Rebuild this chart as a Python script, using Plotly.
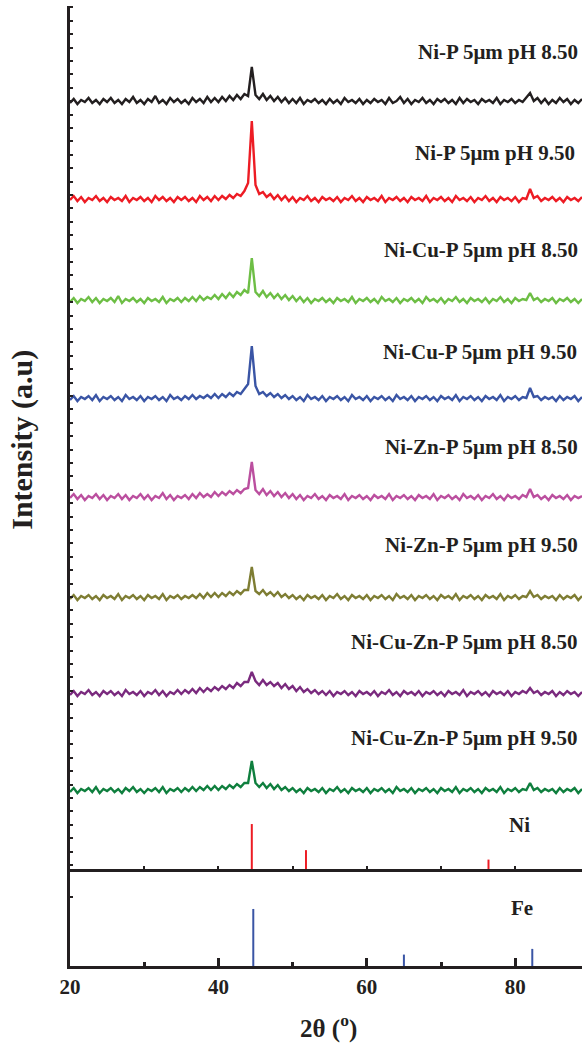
import numpy as np
import plotly.graph_objects as go

# ---------------- data ----------------
# 2-theta sampling grid (degrees): 20.0 .. 89.0 every 0.5
TWO_THETA_START = 20.0
TWO_THETA_STEP = 0.5
N_POINTS = 139

sample_names = [
    "Ni-P 5μm pH 8.50",
    "Ni-P 5μm pH 9.50",
    "Ni-Cu-P 5μm pH 8.50",
    "Ni-Cu-P 5μm pH 9.50",
    "Ni-Zn-P 5μm pH 8.50",
    "Ni-Zn-P 5μm pH 9.50",
    "Ni-Cu-Zn-P 5μm pH 8.50",
    "Ni-Cu-Zn-P 5μm pH 9.50",
]

ni_p_85 = [
    1, 5, 0, 4, 2, 6, 1, 4, 0, 5,
    2, 6, 1, 4, 0, 5, 2, 7, 1, 4,
    0, 5, 2, 8, 1, 4, 0, 6, 2, 5,
    1, 4, 0, 6, 2, 5, 1, 7, 2, 6,
    2, 7, 3, 8, 4, 9, 5, 10, 8, 37,
    9, 5, 10, 4, 8, 3, 7, 2, 6, 1,
    5, 1, 6, 0, 4, 2, 5, 1, 4, 0,
    5, 1, 4, 0, 6, 2, 4, 1, 5, 0,
    4, 1, 5, 2, 4, 0, 6, 1, 3, 7,
    1, 5, 0, 4, 2, 6, 1, 4, 0, 5,
    2, 5, 1, 4, 0, 6, 1, 5, 2, 4,
    0, 5, 2, 4, 1, 6, 0, 4, 2, 5,
    1, 4, 2, 6, 11, 3, 6, 1, 5, 0,
    4, 1, 6, 2, 5, 0, 4, 1, 5,
]
ni_p_95 = [
    2, 6, 1, 5, 0, 4, 2, 6, 1, 4,
    0, 5, 2, 4, 1, 6, 0, 4, 2, 5,
    1, 4, 0, 6, 2, 5, 1, 4, 0, 5,
    2, 5, 1, 4, 0, 6, 2, 5, 1, 6,
    2, 6, 3, 7, 4, 8, 6, 11, 19, 81,
    17, 8, 10, 5, 8, 3, 7, 2, 6, 1,
    5, 0, 4, 2, 6, 1, 4, 0, 5, 2,
    4, 1, 5, 0, 4, 2, 6, 1, 4, 0,
    5, 2, 4, 1, 6, 0, 4, 2, 5, 1,
    4, 0, 5, 2, 4, 1, 6, 0, 4, 2,
    5, 1, 4, 0, 6, 2, 4, 1, 5, 0,
    4, 2, 6, 1, 4, 0, 5, 2, 4, 1,
    5, 0, 4, 3, 13, 4, 6, 1, 4, 2,
    5, 1, 4, 0, 5, 2, 4, 1, 5,
]
ni_cu_p_85 = [
    1, 5, 0, 4, 2, 6, 1, 5, 0, 4,
    2, 5, 1, 7, 0, 4, 2, 5, 1, 4,
    0, 5, 2, 4, 1, 6, 0, 4, 2, 5,
    1, 5, 2, 6, 2, 7, 3, 6, 4, 8,
    4, 9, 5, 10, 6, 11, 8, 13, 10, 45,
    11, 7, 12, 6, 10, 5, 9, 4, 8, 3,
    7, 2, 6, 1, 5, 0, 4, 2, 5, 1,
    4, 0, 5, 2, 4, 1, 6, 0, 4, 2,
    5, 1, 4, 0, 6, 2, 4, 1, 5, 0,
    4, 2, 5, 1, 4, 0, 6, 2, 4, 1,
    5, 0, 4, 2, 6, 1, 4, 0, 5, 2,
    4, 1, 5, 0, 4, 2, 6, 1, 4, 0,
    5, 2, 4, 3, 10, 3, 5, 1, 4, 2,
    5, 0, 4, 2, 5, 1, 4, 0, 4,
]
ni_cu_p_95 = [
    1, 5, 0, 4, 2, 5, 1, 6, 0, 4,
    2, 5, 1, 4, 0, 6, 2, 4, 1, 5,
    0, 4, 2, 5, 1, 4, 0, 6, 2, 4,
    1, 5, 2, 6, 2, 5, 3, 6, 3, 7,
    3, 7, 4, 8, 5, 9, 7, 12, 17, 55,
    15, 7, 9, 5, 8, 4, 7, 3, 6, 2,
    5, 1, 4, 0, 6, 2, 4, 1, 5, 0,
    4, 2, 5, 1, 4, 0, 6, 2, 4, 1,
    5, 0, 4, 2, 5, 1, 4, 0, 6, 2,
    4, 1, 5, 0, 4, 2, 5, 1, 4, 0,
    5, 2, 4, 1, 6, 0, 4, 2, 5, 1,
    4, 0, 5, 2, 4, 1, 6, 0, 4, 2,
    5, 1, 4, 3, 13, 4, 5, 1, 4, 2,
    4, 0, 5, 1, 4, 2, 5, 0, 4,
]
ni_zn_p_85 = [
    2, 6, 1, 5, 0, 4, 2, 6, 1, 5,
    0, 4, 2, 6, 1, 5, 0, 4, 2, 6,
    1, 5, 0, 4, 2, 7, 1, 5, 0, 4,
    2, 5, 1, 6, 2, 7, 3, 6, 3, 8,
    4, 8, 5, 9, 6, 10, 7, 11, 12, 38,
    10, 6, 11, 5, 9, 4, 8, 3, 7, 2,
    6, 1, 5, 0, 4, 2, 6, 1, 4, 0,
    5, 2, 4, 1, 6, 0, 4, 2, 5, 1,
    4, 0, 5, 2, 4, 1, 6, 0, 4, 2,
    5, 1, 4, 0, 5, 2, 4, 1, 6, 0,
    4, 2, 5, 1, 4, 0, 6, 2, 4, 1,
    5, 0, 4, 2, 6, 1, 4, 0, 5, 2,
    4, 1, 5, 3, 11, 3, 5, 1, 4, 0,
    5, 2, 4, 1, 5, 0, 4, 2, 4,
]
ni_zn_p_95 = [
    1, 5, 0, 4, 2, 5, 1, 4, 0, 5,
    2, 4, 1, 6, 0, 4, 2, 5, 1, 4,
    0, 5, 2, 4, 1, 6, 0, 4, 2, 5,
    1, 4, 2, 5, 2, 6, 2, 7, 3, 7,
    3, 7, 4, 8, 5, 9, 6, 10, 10, 33,
    9, 6, 10, 5, 8, 4, 8, 3, 6, 2,
    5, 1, 4, 0, 5, 2, 4, 1, 5, 0,
    4, 2, 6, 1, 4, 0, 5, 2, 4, 1,
    5, 0, 4, 2, 5, 1, 4, 0, 6, 2,
    4, 1, 5, 0, 4, 2, 5, 1, 4, 0,
    5, 2, 4, 1, 6, 0, 4, 2, 5, 1,
    4, 0, 5, 2, 4, 1, 6, 0, 4, 2,
    5, 1, 4, 3, 9, 3, 5, 1, 4, 2,
    4, 0, 5, 1, 4, 2, 5, 0, 4,
]
ni_cu_zn_p_85 = [
    1, 5, 0, 4, 2, 6, 1, 4, 0, 5,
    2, 5, 1, 4, 0, 6, 2, 4, 1, 5,
    0, 4, 2, 6, 1, 5, 0, 4, 2, 6,
    2, 6, 3, 7, 3, 8, 4, 8, 5, 9,
    6, 10, 7, 11, 8, 13, 10, 14, 14, 24,
    15, 11, 16, 11, 14, 10, 13, 8, 12, 7,
    10, 5, 9, 4, 7, 3, 6, 2, 5, 1,
    5, 0, 4, 2, 5, 1, 4, 0, 5, 2,
    4, 1, 5, 0, 4, 2, 6, 1, 4, 0,
    5, 2, 4, 1, 5, 0, 4, 2, 5, 1,
    4, 0, 5, 2, 4, 1, 6, 0, 4, 2,
    5, 1, 4, 0, 5, 2, 4, 1, 5, 0,
    4, 2, 5, 3, 8, 3, 5, 1, 4, 2,
    5, 0, 4, 1, 5, 2, 4, 0, 4,
]
ni_cu_zn_p_95 = [
    1, 5, 0, 4, 2, 5, 1, 6, 0, 4,
    2, 5, 1, 4, 0, 5, 2, 6, 1, 4,
    0, 4, 2, 5, 1, 6, 0, 4, 2, 5,
    1, 5, 2, 6, 2, 6, 3, 7, 3, 7,
    3, 7, 4, 8, 5, 9, 6, 10, 10, 32,
    10, 6, 10, 5, 9, 4, 8, 3, 6, 2,
    5, 1, 4, 0, 5, 2, 4, 1, 5, 0,
    4, 2, 6, 1, 4, 0, 5, 2, 4, 1,
    5, 0, 4, 2, 5, 1, 4, 0, 6, 2,
    4, 1, 5, 0, 4, 2, 5, 1, 4, 0,
    5, 2, 4, 1, 6, 0, 4, 2, 5, 1,
    4, 0, 5, 2, 4, 1, 6, 0, 4, 2,
    5, 1, 4, 3, 10, 3, 5, 1, 4, 2,
    4, 0, 5, 1, 4, 2, 5, 0, 4,
]

# Reference patterns (2θ positions, relative intensities)
ni_ref_pos = [44.5, 51.8, 76.4]
ni_ref_int = [100, 42, 21]
fe_ref_pos = [44.7, 65.0, 82.3]
fe_ref_int = [100, 20, 30]

x_tick_labels = ["20", "40", "60", "80"]
x_tick_values = [20, 40, 60, 80]

# ---------------- styling / layout ----------------
series = [ni_p_85, ni_p_95, ni_cu_p_85, ni_cu_p_95,
          ni_zn_p_85, ni_zn_p_95, ni_cu_zn_p_85, ni_cu_zn_p_95]
colors = ["#231f20", "#ed1c24", "#6dbe45", "#3a55a5",
          "#bb4f9f", "#7e7d33", "#7a2a7e", "#0f7f3e"]
offsets = [765, 667, 566, 468, 369, 269, 173, 76]
label_y = [817, 716, 619, 517, 422, 324, 227, 131]
label_x = [0.996, 0.990, 0.996, 0.994, 0.996, 0.996, 0.996, 0.996]
NI_SCALE = 0.45

FONT = "Liberation Serif, Times New Roman, serif"
AX = "#231f20"

two_theta = TWO_THETA_START + TWO_THETA_STEP * np.arange(N_POINTS)

fig = go.Figure()
for vals, col, off in zip(series, colors, offsets):
    fig.add_trace(go.Scatter(
        x=two_theta, y=np.array(vals, dtype=float) + off, mode="lines",
        line=dict(color=col, width=2.4), xaxis="x", yaxis="y",
        showlegend=False, hoverinfo="skip"))

# Ni sticks (main panel bottom)
nx, ny = [], []
for p, h in zip(ni_ref_pos, ni_ref_int):
    nx += [p, p, None]
    ny += [0, h * NI_SCALE, None]
fig.add_trace(go.Scatter(x=nx, y=ny, mode="lines",
                         line=dict(color="#ed1c24", width=2),
                         xaxis="x", yaxis="y", showlegend=False,
                         hoverinfo="skip"))

# Fe sticks (bottom panel)
fx, fy = [], []
for p, h in zip(fe_ref_pos, fe_ref_int):
    fx += [p, p, None]
    fy += [0, h, None]
fig.add_trace(go.Scatter(x=fx, y=fy, mode="lines",
                         line=dict(color="#3a55a5", width=2),
                         xaxis="x2", yaxis="y2", showlegend=False,
                         hoverinfo="skip"))

split = 0.101
common_x = dict(range=[20, 89], showgrid=False, zeroline=False,
                showline=True, linecolor=AX)

annotations = []
for name, ly, lx in zip(sample_names, label_y, label_x):
    annotations.append(dict(
        text=name, xref="paper", yref="y", x=lx, y=ly,
        xanchor="right", yanchor="middle", showarrow=False,
        font=dict(family=FONT, size=21, color=AX, weight="bold")))
annotations.append(dict(text="Ni", xref="x", yref="y", x=80.6, y=44,
                        showarrow=False, xanchor="center", yanchor="middle",
                        font=dict(family=FONT, size=21, color=AX, weight="bold")))
annotations.append(dict(text="Fe", xref="x2", yref="y2", x=80.9, y=102,
                        showarrow=False, xanchor="center", yanchor="middle",
                        font=dict(family=FONT, size=21, color=AX, weight="bold")))
annotations.append(dict(text="Intensity (a.u)", xref="paper", yref="paper",
                        x=-0.094, y=0.548, textangle=-90, showarrow=False,
                        xanchor="center", yanchor="middle",
                        font=dict(family=FONT, size=30, color=AX, weight="bold")))
annotations.append(dict(text="2θ (<sup>o</sup>)", xref="paper", yref="paper",
                        x=0.504, y=-0.0625, showarrow=False,
                        xanchor="center", yanchor="middle",
                        font=dict(family=FONT, size=25, color=AX, weight="bold")))

fig.update_layout(
    width=582, height=1043,
    margin=dict(l=70, r=0, t=6, b=77),
    paper_bgcolor="white", plot_bgcolor="white",
    showlegend=False,
    hovermode=False,
    xaxis=dict(**common_x, domain=[0, 1], anchor="y", linewidth=2.5,
               ticks="inside", tick0=20, dtick=10, ticklen=3, tickwidth=2,
               tickcolor=AX, showticklabels=False),
    yaxis=dict(domain=[split, 1], range=[0, 863], anchor="x",
               showgrid=False, zeroline=False, showline=True, linecolor=AX,
               linewidth=2.5, ticks="inside", tick0=4.1, dtick=13.4,
               ticklen=3, tickwidth=2, tickcolor=AX, showticklabels=False),
    xaxis2=dict(**common_x, domain=[0, 1], anchor="y2", linewidth=2.5,
                ticks="inside", tickvals=x_tick_values, ticktext=x_tick_labels,
                ticklen=8, tickwidth=2.5, tickcolor=AX,
                minor=dict(tickvals=[30, 50, 70], ticks="inside", ticklen=4,
                           tickwidth=2.5, tickcolor=AX),
                tickfont=dict(family=FONT, size=21, color=AX, weight="bold")),
    yaxis2=dict(domain=[0, split], range=[0, 170], anchor="x2",
                showgrid=False, zeroline=False, showline=True, linecolor=AX,
                linewidth=2.5, ticks="inside", tickvals=[121], ticklen=3,
                tickwidth=2, tickcolor=AX, showticklabels=False),
    xaxis3=dict(**common_x, overlaying="x", side="top", anchor="y",
                linewidth=2, ticks="inside", tick0=20, dtick=5, ticklen=3,
                tickwidth=1.5, tickcolor=AX, showticklabels=False),
    annotations=annotations,
)

fig.write_html(
    "out.html",
    config={"displayModeBar": False},
    post_script="document.body.style.margin='0';document.body.style.padding='0';",
)
